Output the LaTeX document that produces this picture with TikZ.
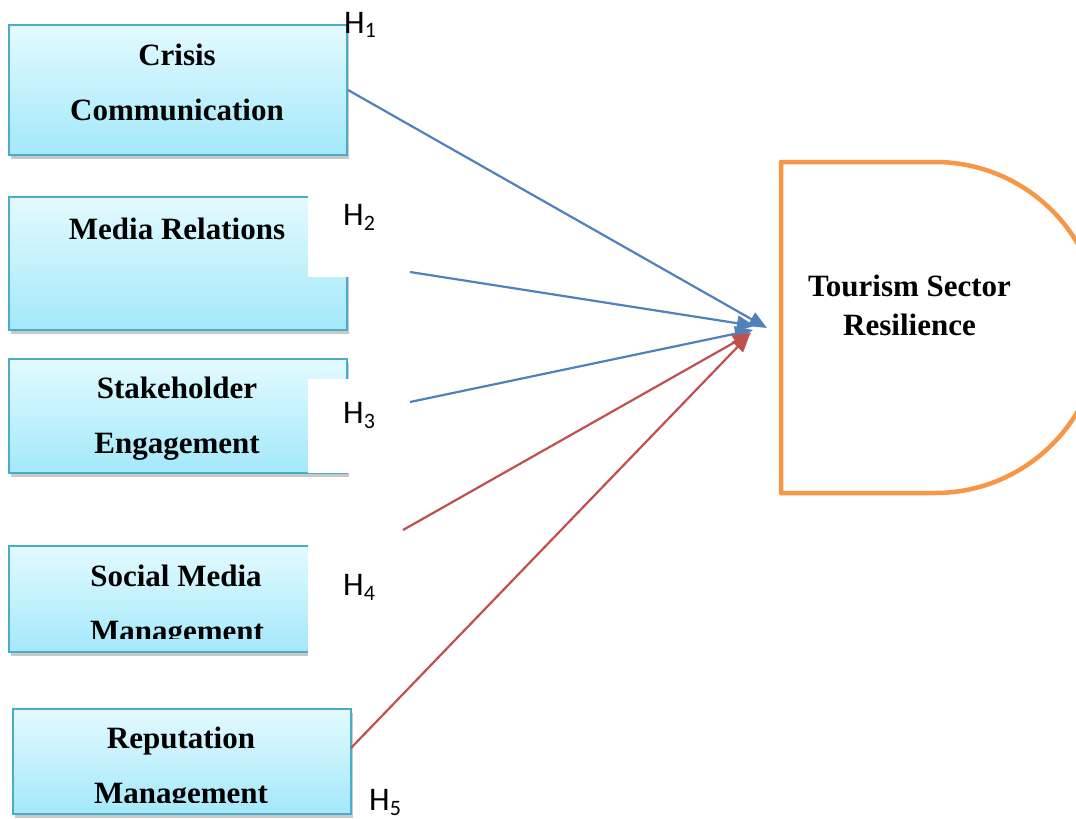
\documentclass[tikz,border=0pt]{standalone}
\usepackage{fontspec}
\setmainfont{Liberation Serif}
\newfontfamily\hfont{Carlito}
\usetikzlibrary{arrows.meta,shadows}
\definecolor{boxborder}{HTML}{4BACC6}
\definecolor{boxtop}{HTML}{E3FAFF}
\definecolor{boxbot}{HTML}{A3E8FA}
\definecolor{blueline}{HTML}{4F81BD}
\definecolor{redline}{HTML}{C0504D}
\definecolor{orangeline}{HTML}{F79646}
\newcommand{\hsub}[1]{\raisebox{-5pt}{\fontsize{22}{22}\selectfont #1}}
\begin{document}
\begin{tikzpicture}[x=1pt,y=1pt,
  varbox/.style={draw=boxborder, line width=2pt, top color=boxtop, bottom color=boxbot,
    anchor=north west, inner sep=0pt,
    drop shadow={shadow xshift=2pt, shadow yshift=-4pt, opacity=0.3, fill=black!70}},
  boxtext/.style={font=\fontsize{31}{31}\selectfont\bfseries, anchor=base, inner sep=0pt},
  hlab/.style={font=\hfont\fontsize{33}{33}\selectfont, anchor=base west, inner sep=0pt},
  cover/.style={fill=white, draw=none, anchor=north west, inner sep=0pt},
  bluearrow/.style={draw=blueline, line width=2.2pt, -{Triangle[length=18pt,width=15pt]}},
  redarrow/.style={draw=redline, line width=2.2pt, -{Triangle[length=18pt,width=15pt]}},
  goal/.style={draw=orangeline, line width=4.5pt, line join=round}]
\useasboundingbox (0,0) rectangle (1076,-819);
\clip (0,0) rectangle (1076,-819);

% input boxes
\node[varbox, minimum width=338pt, minimum height=130pt] (b1) at (8,-24) {};
\node[varbox, minimum width=338pt, minimum height=133pt] (b2) at (8,-196) {};
\node[varbox, minimum width=338pt, minimum height=114pt] (b3) at (8,-358) {};
\node[varbox, minimum width=338pt, minimum height=106pt] (b4) at (8,-545) {};
\node[varbox, minimum width=338pt, minimum height=105pt] (b5) at (12,-708) {};

% box texts
\node[boxtext] (t1a) at (177,-65) {Crisis};
\node[boxtext] (t1b) at (177,-120) {Communication};
\node[boxtext] (t2a) at (177,-239) {Media Relations};
\node[boxtext] (t3a) at (177,-398) {Stakeholder};
\node[boxtext] (t3b) at (177,-453) {Engagement};
\node[boxtext] (t4a) at (176,-586) {Social Media};
\begin{scope}
  \clip (8,-545) rectangle (346,-638);
  \node[boxtext] (t4b) at (177,-641) {Management};
\end{scope}
\node[boxtext] (t5a) at (181,-748) {Reputation};
\begin{scope}
  \clip (12,-708) rectangle (350,-802);
  \node[boxtext] (t5b) at (181,-803) {Management};
\end{scope}

% white label patches
\node[cover, minimum width=102pt, minimum height=97pt] (c2) at (308,-180) {};
\node[cover, minimum width=102pt, minimum height=94pt] (c3) at (308,-379) {};
\node[cover, minimum width=102pt, minimum height=128pt] (c4) at (308,-530) {};

% hypothesis labels
\node[hlab] (h1) at (344,-33) {H\hsub{1}};
\node[hlab] (h2) at (343,-225) {H\hsub{2}};
\node[hlab] (h3) at (343,-423) {H\hsub{3}};
\node[hlab] (h4) at (343,-595) {H\hsub{4}};
\node[hlab] (h5) at (369,-810) {H\hsub{5}};

% outcome shape
\draw[goal] (781,-162) -- (935,-162) arc[start angle=90, end angle=-90, radius=165.5pt] -- (781,-493) -- cycle;
\node[boxtext] (o1) at (909.5,-296) {Tourism Sector};
\node[boxtext] (o2) at (909.5,-335) {Resilience};

% arrow end points
\coordinate (s2) at (410,-272);
\coordinate (s3) at (410,-402);
\coordinate (s4) at (403,-530);
\coordinate (s5) at (351,-748);
\coordinate (e1) at (767,-328);
\coordinate (e2) at (755,-326);
\coordinate (e3) at (753,-330);
\coordinate (e4) at (751,-333);
\coordinate (e5) at (750,-334);

\draw[bluearrow] (b1.east) -- (e1);
\draw[bluearrow] (s2) -- (e2);
\draw[bluearrow] (s3) -- (e3);
\draw[redarrow] (s4) -- (e4);
\draw[redarrow] (s5) -- (e5);
\end{tikzpicture}
\end{document}
